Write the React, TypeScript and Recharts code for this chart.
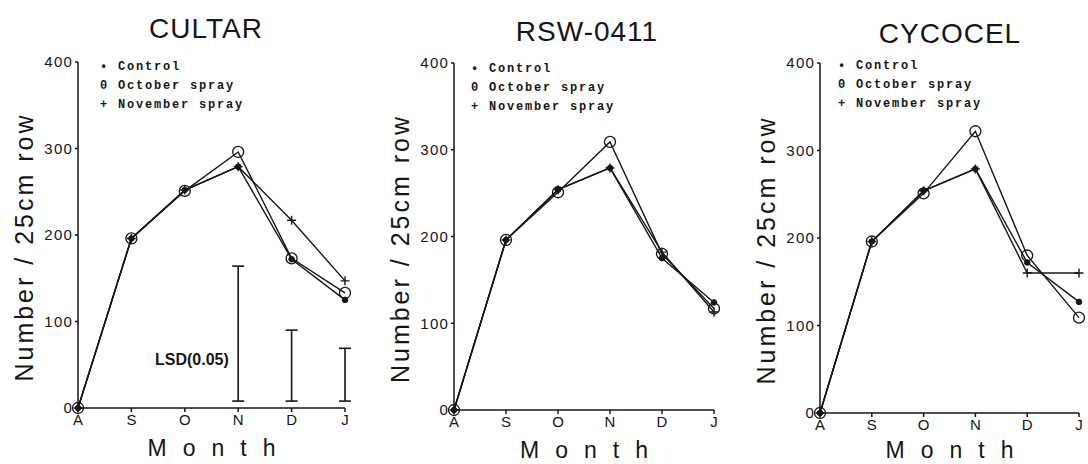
import React from 'react';
import { LineChart, Line, XAxis, YAxis, ErrorBar, Legend } from 'recharts';

// months on the x axis and y ticks shared by all three panels
const months = ['A', 'S', 'O', 'N', 'D', 'J'];
const yTicks = [0, 100, 200, 300, 400];

// CULTAR
const cultarControl = [0, 196, 252, 279, 172, 125];
const cultarOctober = [0, 196, 251, 296, 173, 133];
const cultarNovember = [0, 196, 252, 279, 217, 147];
const cultarLsdLow = [null, null, null, 8, 8, 8];
const cultarLsdHigh = [null, null, null, 164, 90, 69];

// RSW-0411
const rswControl = [0, 196, 254, 279, 175, 124];
const rswOctober = [0, 196, 251, 309, 180, 117];
const rswNovember = [0, 196, 254, 279, 182, 113];

// CYCOCEL
const cycocelControl = [0, 196, 254, 279, 172, 127];
const cycocelOctober = [0, 196, 251, 322, 180, 109];
const cycocelNovember = [0, 196, 254, 279, 160, 160];

const legendItems = [
  { mark: '•', text: 'Control' },
  { mark: '0', text: 'October spray' },
  { mark: '+', text: 'November spray' },
];

const ink = '#161616';
const sans = '"Liberation Sans", Arial, sans-serif';
const mono = '"Liberation Mono", "DejaVu Sans Mono", monospace';

const controlDot = (p: any) =>
  p.cx == null || p.cy == null ? <g key={`c-${p.index}`} /> : (
    <circle key={`c-${p.index}`} cx={p.cx} cy={p.cy} r={2.8} fill={ink} stroke={ink} strokeWidth={1} />
  );

const octoberDot = (p: any) =>
  p.cx == null || p.cy == null ? <g key={`o-${p.index}`} /> : (
    <circle key={`o-${p.index}`} cx={p.cx} cy={p.cy} r={5.5} fill="none" stroke={ink} strokeWidth={1.3} />
  );

const novemberDot = (p: any) =>
  p.cx == null || p.cy == null ? <g key={`n-${p.index}`} /> : (
    <path
      key={`n-${p.index}`}
      d={`M${p.cx - 4.5},${p.cy}H${p.cx + 4.5}M${p.cx},${p.cy - 4.5}V${p.cy + 4.5}`}
      stroke={ink}
      strokeWidth={1.4}
      fill="none"
    />
  );

const LegendBox = () => (
  <div style={{ fontFamily: mono, fontSize: 12, fontWeight: 'bold', lineHeight: '19px', color: ink, whiteSpace: 'nowrap' }}>
    {legendItems.map((it) => (
      <div key={it.text}>
        <span style={{ display: 'inline-block', width: 18 }}>{it.mark}</span>
        <span style={{ letterSpacing: 1.8 }}>{it.text}</span>
      </div>
    ))}
  </div>
);

interface PanelProps {
  title: string;
  titleX: number;
  titleY: number;
  left: number;
  width: number;
  margin: { top: number; right: number; bottom: number; left: number };
  legendLeft: number;
  legendTop: number;
  monthDy: number;
  control: number[];
  october: number[];
  november: number[];
  lsdLow?: (number | null)[];
  lsdHigh?: (number | null)[];
}

function Panel(props: PanelProps) {
  const { title, titleX, titleY, left, width, margin, legendLeft, legendTop, monthDy, control, october, november, lsdLow, lsdHigh } = props;
  const rows = months.map((m, i) => {
    const lo = lsdLow ? lsdLow[i] : null;
    const hi = lsdHigh ? lsdHigh[i] : null;
    return {
      m,
      control: control[i],
      october: october[i],
      november: november[i],
      lsdMid: lo != null && hi != null ? (lo + hi) / 2 : null,
      lsdErr: lo != null && hi != null ? (hi - lo) / 2 : null,
    };
  });

  return (
    <div style={{ position: 'absolute', left, top: 0, width, height: 464 }}>
      <div
        style={{
          position: 'absolute',
          left: titleX,
          top: titleY,
          transform: 'translate(-50%, -50%)',
          fontFamily: sans,
          fontSize: 28,
          letterSpacing: 1,
          color: ink,
          whiteSpace: 'nowrap',
        }}
      >
        {title}
      </div>
      <LineChart width={width} height={464} data={rows} margin={margin}>
        <XAxis
          dataKey="m"
          interval={0}
          tickSize={4}
          tickMargin={2}
          axisLine={{ stroke: ink, strokeWidth: 1.5 }}
          tickLine={{ stroke: ink, strokeWidth: 1.5 }}
          tick={{ fill: ink, fontSize: 15, fontFamily: sans }}
          height={30}
          label={{
            content: (lp: any) => {
              const vb = lp.viewBox;
              return (
                <text
                  x={vb.x + vb.width / 2 + 8}
                  y={vb.y + monthDy}
                  textAnchor="middle"
                  dominantBaseline="central"
                  fontFamily={sans}
                  fontSize={23}
                  letterSpacing={16}
                  fill={ink}
                >
                  Month
                </text>
              );
            },
          }}
        />
        <YAxis
          type="number"
          domain={[0, 400]}
          ticks={yTicks}
          width={40}
          tickSize={3}
          tickMargin={2}
          axisLine={{ stroke: ink, strokeWidth: 1.5 }}
          tickLine={{ stroke: ink, strokeWidth: 1.5 }}
          tick={{ fill: ink, fontSize: 15, fontFamily: sans, letterSpacing: 1.2 }}
          label={{
            content: (lp: any) => {
              const vb = lp.viewBox;
              const cx = vb.x + vb.width - 54;
              const cy = vb.y + vb.height / 2 + 12;
              return (
                <text
                  x={cx}
                  y={cy}
                  transform={`rotate(-90 ${cx} ${cy})`}
                  textAnchor="middle"
                  dominantBaseline="central"
                  fontFamily={sans}
                  fontSize={25}
                  letterSpacing={3}
                  fill={ink}
                >
                  Number / 25cm row
                </text>
              );
            },
          }}
        />
        <Legend
          layout="horizontal"
          verticalAlign="middle"
          align="center"
          wrapperStyle={{ left: legendLeft, top: legendTop, width: 'auto' }}
          content={() => <LegendBox />}
        />
        <Line dataKey="november" stroke={ink} strokeWidth={1.4} dot={novemberDot} isAnimationActive={false} />
        <Line dataKey="control" stroke={ink} strokeWidth={1.4} dot={controlDot} isAnimationActive={false} />
        <Line dataKey="october" stroke={ink} strokeWidth={1.4} dot={octoberDot} isAnimationActive={false} />
        {lsdLow && (
          <Line dataKey="lsdMid" stroke="none" dot={false} isAnimationActive={false} legendType="none">
            <ErrorBar dataKey="lsdErr" direction="y" width={6} stroke={ink} strokeWidth={1.6} />
          </Line>
        )}
      </LineChart>
      {lsdLow && (
        <div
          style={{
            position: 'absolute',
            left: 155,
            top: 351,
            fontFamily: sans,
            fontWeight: 'bold',
            fontSize: 16,
            color: ink,
            whiteSpace: 'nowrap',
          }}
        >
          LSD(0.05)
        </div>
      )}
    </div>
  );
}

export default function App() {
  return (
    <div style={{ position: 'absolute', left: 0, top: 0, width: 1088, height: 464, background: '#fff' }}>
      <Panel
        title="CULTAR"
        titleX={206}
        titleY={29}
        left={0}
        width={360}
        margin={{ top: 62, right: 15, bottom: 26, left: 38 }}
        legendLeft={100}
        legendTop={58}
        monthDy={40}
        control={cultarControl}
        october={cultarOctober}
        november={cultarNovember}
        lsdLow={cultarLsdLow}
        lsdHigh={cultarLsdHigh}
      />
      <Panel
        title="RSW-0411"
        titleX={227}
        titleY={32}
        left={360}
        width={360}
        margin={{ top: 63, right: 6, bottom: 24, left: 54 }}
        legendLeft={111}
        legendTop={60}
        monthDy={40}
        control={rswControl}
        october={rswOctober}
        november={rswNovember}
      />
      <Panel
        title="CYCOCEL"
        titleX={230}
        titleY={34}
        left={720}
        width={368}
        margin={{ top: 63, right: 9, bottom: 21, left: 60 }}
        legendLeft={118}
        legendTop={57}
        monthDy={37}
        control={cycocelControl}
        october={cycocelOctober}
        november={cycocelNovember}
      />
    </div>
  );
}
